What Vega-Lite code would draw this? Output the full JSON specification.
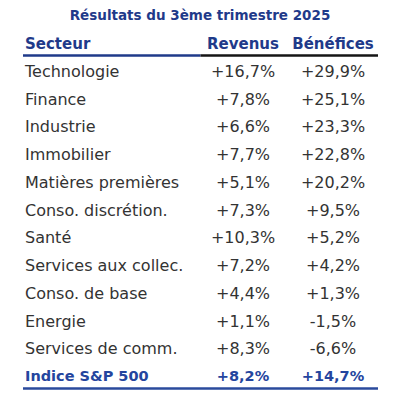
{
  "$schema": "https://vega.github.io/schema/vega-lite/v6.json",
  "width": 400,
  "height": 400,
  "autosize": {"type": "fit", "contains": "padding"},
  "padding": 0,
  "background": "white",
  "config": {"view": {"stroke": null}, "text": {"font": "DejaVu Sans", "baseline": "middle"}},
  "datasets": {
    "rows": [
      {"row": "Technologie", "revenus": "+16,7%", "benefices": "+29,9%", "kind": "body"},
      {"row": "Finance", "revenus": "+7,8%", "benefices": "+25,1%", "kind": "body"},
      {"row": "Industrie", "revenus": "+6,6%", "benefices": "+23,3%", "kind": "body"},
      {"row": "Immobilier", "revenus": "+7,7%", "benefices": "+22,8%", "kind": "body"},
      {"row": "Matières premières", "revenus": "+5,1%", "benefices": "+20,2%", "kind": "body"},
      {"row": "Conso. discrétion.", "revenus": "+7,3%", "benefices": "+9,5%", "kind": "body"},
      {"row": "Santé", "revenus": "+10,3%", "benefices": "+5,2%", "kind": "body"},
      {"row": "Services aux collec.", "revenus": "+7,2%", "benefices": "+4,2%", "kind": "body"},
      {"row": "Conso. de base", "revenus": "+4,4%", "benefices": "+1,3%", "kind": "body"},
      {"row": "Energie", "revenus": "+1,1%", "benefices": "-1,5%", "kind": "body"},
      {"row": "Services de comm.", "revenus": "+8,3%", "benefices": "-6,6%", "kind": "body"},
      {"row": "Indice S&P 500", "revenus": "+8,2%", "benefices": "+14,7%", "kind": "total"}
    ],
    "header": [
      {"row": "header", "col": "Secteur", "label": "Secteur"},
      {"row": "header", "col": "Revenus", "label": "Revenus"},
      {"row": "header", "col": "Bénéfices", "label": "Bénéfices"}
    ],
    "title": [{"row": "title", "label": "Résultats du 3ème trimestre 2025"}],
    "lines": [
      {"row": "header", "from": "début", "to": "milieu", "colour": "blue"},
      {"row": "header", "from": "milieu", "to": "fin", "colour": "black"},
      {"row": "Indice S&P 500", "from": "début", "to": "fin", "colour": "blue2"}
    ]
  },
  "resolve": {"scale": {"x": "independent", "y": "shared", "color": "independent"}},
  "layer": [
    {
      "data": {"name": "title"},
      "mark": {"type": "text", "fontWeight": "bold", "fontSize": 13.5, "color": "#1f3a8a", "align": "center"},
      "encoding": {
        "y": {"field": "row", "type": "nominal", "axis": null,
          "scale": {"type": "band", "domain": ["title", "header", "Technologie", "Finance", "Industrie", "Immobilier", "Matières premières", "Conso. discrétion.", "Santé", "Services aux collec.", "Conso. de base", "Energie", "Services de comm.", "Indice S&P 500"], "range": [2.4, 390.9], "paddingInner": 0, "paddingOuter": 0}},
        "text": {"field": "label"}
      }
    },
    {
      "data": {"name": "header"},
      "mark": {"type": "text", "fontWeight": "bold", "fontSize": 15, "color": "#1f3a8a", "align": "center"},
      "encoding": {
        "x": {"field": "col", "type": "nominal", "axis": null, "scale": {"type": "point", "domain": ["Secteur", "Revenus", "Bénéfices"], "range": [153, 333], "padding": 0}},
        "y": {"field": "row", "type": "nominal"},
        "text": {"field": "label"},
        "opacity": {"condition": {"test": "datum.col == 'Secteur'", "value": 0}, "value": 1}
      }
    },
    {
      "data": {"name": "header"},
      "transform": [{"filter": "datum.col == 'Secteur'"}],
      "mark": {"type": "text", "fontWeight": "bold", "fontSize": 15, "color": "#1f3a8a", "align": "left", "dx": -128},
      "encoding": {
        "x": {"field": "col", "type": "nominal", "axis": null, "scale": {"type": "point", "domain": ["Secteur", "Revenus", "Bénéfices"], "range": [153, 333], "padding": 0}},
        "y": {"field": "row", "type": "nominal"},
        "text": {"field": "label"}
      }
    },
    {
      "data": {"name": "rows"},
      "transform": [{"filter": "datum.kind == 'body'"}],
      "layer": [
        {
          "mark": {"type": "text", "fontSize": 16, "color": "#333333", "align": "left", "dx": -128},
          "encoding": {
            "x": {"datum": "Secteur", "type": "nominal", "axis": null, "scale": {"type": "point", "domain": ["Secteur", "Revenus", "Bénéfices"], "range": [153, 333], "padding": 0}},
            "y": {"field": "row", "type": "nominal"},
            "text": {"field": "row"}
          }
        },
        {
          "mark": {"type": "text", "fontSize": 16, "color": "#333333", "align": "center"},
          "encoding": {
            "x": {"datum": "Revenus", "type": "nominal"},
            "y": {"field": "row", "type": "nominal"},
            "text": {"field": "revenus"}
          }
        },
        {
          "mark": {"type": "text", "fontSize": 16, "color": "#333333", "align": "center"},
          "encoding": {
            "x": {"datum": "Bénéfices", "type": "nominal"},
            "y": {"field": "row", "type": "nominal"},
            "text": {"field": "benefices"}
          }
        }
      ]
    },
    {
      "data": {"name": "rows"},
      "transform": [{"filter": "datum.kind == 'total'"}],
      "layer": [
        {
          "mark": {"type": "text", "fontSize": 14.5, "fontWeight": "bold", "color": "#24459e", "align": "left", "dx": -128},
          "encoding": {
            "x": {"datum": "Secteur", "type": "nominal", "axis": null, "scale": {"type": "point", "domain": ["Secteur", "Revenus", "Bénéfices"], "range": [153, 333], "padding": 0}},
            "y": {"field": "row", "type": "nominal"},
            "text": {"field": "row"}
          }
        },
        {
          "mark": {"type": "text", "fontSize": 14.5, "fontWeight": "bold", "color": "#24459e", "align": "center"},
          "encoding": {
            "x": {"datum": "Revenus", "type": "nominal"},
            "y": {"field": "row", "type": "nominal"},
            "text": {"field": "revenus"}
          }
        },
        {
          "mark": {"type": "text", "fontSize": 14.5, "fontWeight": "bold", "color": "#24459e", "align": "center"},
          "encoding": {
            "x": {"datum": "Bénéfices", "type": "nominal"},
            "y": {"field": "row", "type": "nominal"},
            "text": {"field": "benefices"}
          }
        }
      ]
    },
    {
      "data": {"name": "lines"},
      "mark": {"type": "rule", "strokeWidth": 2.5},
      "encoding": {
        "x": {"field": "from", "type": "nominal", "axis": null, "scale": {"type": "point", "domain": ["début", "milieu", "fin"], "range": [23, 378], "padding": 0}},
        "x2": {"field": "to"},
        "y": {"field": "row", "type": "nominal", "bandPosition": 0.91},
        "color": {"field": "colour", "type": "nominal", "legend": null, "scale": {"domain": ["blue", "black", "blue2"], "range": ["#1f3a8a", "#151515", "#2a4a9c"]}}
      }
    }
  ]
}
